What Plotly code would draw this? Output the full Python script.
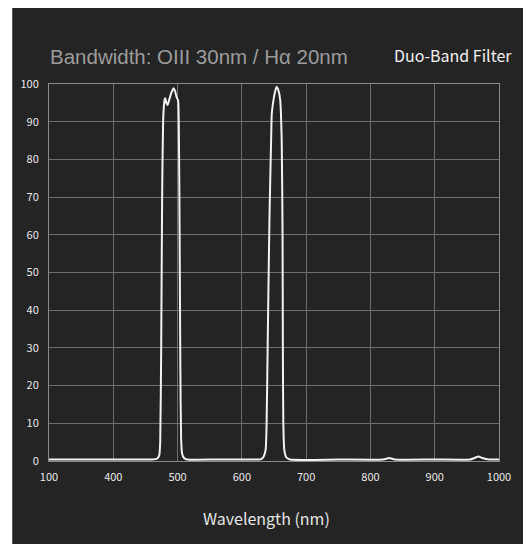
import plotly.graph_objects as go

# Transmission curve (wavelength in nm, transmission in %)
wavelength = [300, 400, 460, 468, 471.5, 473, 474.5, 476, 477.5, 479.5, 480.8, 482.5, 484.4, 487, 490,
              493.6, 496, 498.5, 500.8, 502, 503.2, 504.3, 505.5, 507, 510, 515,
              560, 620, 630, 634, 637, 638.5, 640.5, 643, 645.5, 646.5, 648.5, 651, 654, 656.5,
              659.6, 662, 663.3, 663.8, 664.5, 666, 669, 675,
              750, 820, 829, 838, 900, 955, 962, 968, 974, 985, 1000]
transmission = [0.4, 0.4, 0.4, 0.6, 1.5, 5, 30, 70, 90, 95.5, 96.2, 95, 94.4, 95.8, 97.5,
                98.9, 98.2, 96.5, 95.6, 88, 60, 25, 6, 2, 0.8, 0.4,
                0.4, 0.4, 0.5, 1.2, 3, 10, 35, 65, 85, 92, 95, 97.5, 99.3, 98.5,
                95.8, 85, 60, 30, 10, 3, 1, 0.4,
                0.4, 0.4, 0.8, 0.4, 0.4, 0.4, 0.8, 1.2, 0.8, 0.4, 0.4]

x_tick_vals = [300, 400, 500, 600, 700, 800, 900, 1000]
x_tick_text = ["100", "400", "500", "600", "700", "800", "900", "1000"]
y_tick_vals = [0, 10, 20, 30, 40, 50, 60, 70, 80, 90, 100]

title_text = "Bandwidth: OIII 30nm / Hα 20nm"
label_text = "Duo-Band Filter"
x_title = "Wavelength (nm)"

W, H = 523, 544
L, R, T, B = 49, 21, 84, 83
pw, ph = W - L - R, H - T - B


def px(x):
    return (x - L) / pw


def py(y):
    return (H - B - y) / ph


BG = "#242424"
FONT = "Noto Sans CJK SC"

fig = go.Figure()
fig.add_trace(go.Scatter(
    x=wavelength, y=transmission, mode="lines",
    line=dict(color="#f2f2f2", width=2, shape="spline", smoothing=0.5),
    hoverinfo="skip", showlegend=False,
))

fig.update_layout(
    width=W, height=H,
    margin=dict(l=L, r=R, t=T, b=B, pad=0),
    paper_bgcolor=BG, plot_bgcolor=BG,
    showlegend=False,
    xaxis=dict(range=[300, 1000], tickvals=x_tick_vals, ticktext=x_tick_text,
               showgrid=True, gridcolor="#6e6e6e", gridwidth=1, zeroline=False,
               showline=True, linecolor="#8a8a8a", mirror=True, ticks="",
               ticklabelstandoff=6,
               tickfont=dict(family=FONT, size=11, color="#e8e8e8")),
    yaxis=dict(range=[0, 100], tickvals=y_tick_vals,
               showgrid=True, gridcolor="#6e6e6e", gridwidth=1, zeroline=False,
               showline=True, linecolor="#8a8a8a", mirror=True, ticks="",
               ticklabelstandoff=7,
               tickfont=dict(family=FONT, size=11, color="#e8e8e8")),
    shapes=[
        dict(type="rect", xref="paper", yref="paper", x0=px(-10), x1=px(12), y0=py(H + 10), y1=py(-10),
             fillcolor="white", line=dict(width=0), layer="above"),
        dict(type="rect", xref="paper", yref="paper", x0=px(-10), x1=px(W + 10), y0=py(8), y1=py(-10),
             fillcolor="white", line=dict(width=0), layer="above"),
    ],
    annotations=[
        dict(text=title_text, xref="paper", yref="paper", x=px(48), y=py(56),
             xanchor="left", yanchor="middle", showarrow=False,
             font=dict(family="Liberation Sans", size=20.5, color="#9c9c9c")),
        dict(text=label_text, xref="paper", yref="paper", x=px(517), y=py(55),
             xanchor="right", yanchor="middle", showarrow=False,
             font=dict(family=FONT, size=16, color="#f0f0f0")),
        dict(text=x_title, xref="paper", yref="paper", x=px(267.5), y=py(518),
             xanchor="center", yanchor="middle", showarrow=False,
             font=dict(family=FONT, size=16, color="#e6e6e6")),
    ],
)

fig.write_html(
    "out.html",
    config={"displayModeBar": False},
    post_script="document.body.style.margin='0';document.body.style.overflow='hidden';",
)
